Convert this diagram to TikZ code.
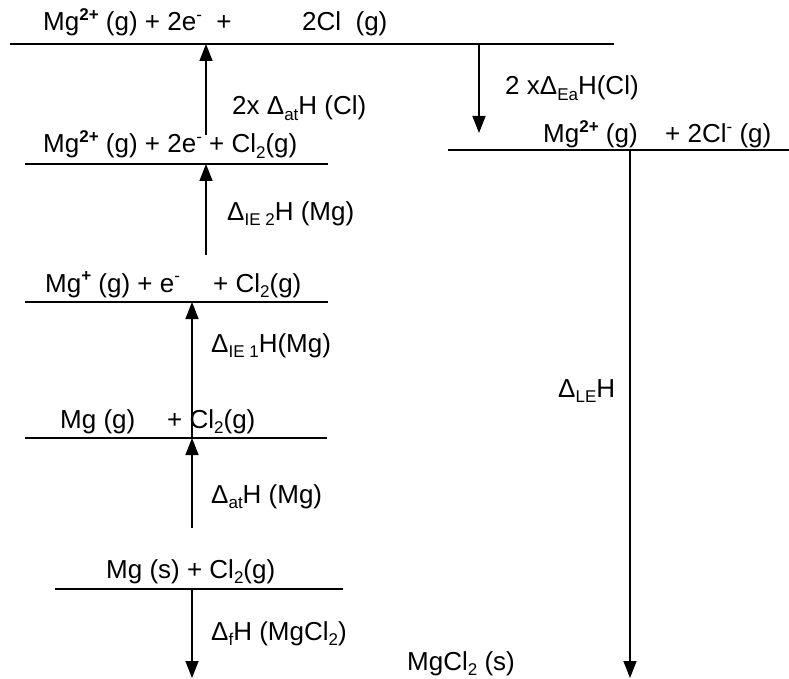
\documentclass[tikz,border=0pt]{standalone}
\usepackage{fontspec}
\setmainfont{Liberation Sans}
\usetikzlibrary{arrows.meta}
\newcommand{\sps}[1]{\raisebox{0.42em}{\fontsize{17}{17}\selectfont\bfseries #1}}
\newcommand{\spn}[1]{\raisebox{0.42em}{\fontsize{17}{17}\selectfont #1}}
\newcommand{\sbs}[1]{\raisebox{-0.2em}{\fontsize{17}{17}\selectfont #1}}
\begin{document}
\begin{tikzpicture}[x=1pt,y=-1pt,
  font=\fontsize{26}{30}\selectfont,
  lvl/.style={line width=1.6pt},
  arr/.style={line width=1.6pt,-{Triangle[width=13pt,length=17pt]}},
  txt/.style={anchor=base west,inner sep=0pt}]
\useasboundingbox (0,0) rectangle (789,679);
% levels
\coordinate (L1a) at (10,44);  \coordinate (L1b) at (614,44);
\coordinate (L2a) at (25,164); \coordinate (L2b) at (328,164);
\coordinate (R1a) at (448,150); \coordinate (R1b) at (789,150);
\coordinate (L3a) at (25,302); \coordinate (L3b) at (328,302);
\coordinate (L4a) at (25,438); \coordinate (L4b) at (327,438);
\coordinate (L5a) at (55,589); \coordinate (L5b) at (343,589);
\draw[lvl] (L1a) -- (L1b);
\draw[lvl] (L2a) -- (L2b);
\draw[lvl] (R1a) -- (R1b);
\draw[lvl] (L3a) -- (L3b);
\draw[lvl] (L4a) -- (L4b);
\draw[lvl] (L5a) -- (L5b);
% arrow ends
\coordinate (a1s) at (206,135); \coordinate (a1e) at (206,44);
\coordinate (a2s) at (206,255); \coordinate (a2e) at (206,164);
\coordinate (a3s) at (192,438); \coordinate (a3e) at (192,302);
\coordinate (a4s) at (192,528); \coordinate (a4e) at (192,438);
\coordinate (a5s) at (192,589); \coordinate (a5e) at (192,678);
\coordinate (a6s) at (479,44);  \coordinate (a6e) at (479,133);
\coordinate (a7s) at (630,150); \coordinate (a7e) at (630,678);
\draw[arr] (a1s) -- (a1e);
\draw[arr] (a2s) -- (a2e);
\draw[arr] (a3s) -- (a3e);
\draw[arr] (a4s) -- (a4e);
\draw[arr] (a5s) -- (a5e);
\draw[arr] (a6s) -- (a6e);
\draw[arr] (a7s) -- (a7e);
% texts
\node[txt] (t1a) at (43,31) {Mg\sps{2+} (g) + 2e\spn{-}\ \ +};
\node[txt] (t1b) at (302,31) {2Cl\ \ (g)};
\node[txt] (t2) at (232,115) {2x Δ\sbs{at}H (Cl)};
\node[txt] (t3) at (43,153) {Mg\sps{2+} (g) + 2e\spn{-} + Cl\sbs{2}(g)};
\node[txt] (t4) at (505,95) {2 xΔ\sbs{Ea}H(Cl)};
\node[txt] (t5a) at (543,143) {Mg\sps{2+} (g)};
\node[txt] (t5b) at (665,143) {+ 2Cl\spn{-} (g)};
\node[txt] (t6) at (227,220) {Δ\sbs{IE 2}H (Mg)};
\node[txt] (t7a) at (45,292) {Mg\sps{+} (g) + e\spn{-}};
\node[txt] (t7b) at (213,292) {+ Cl\sbs{2}(g)};
\node[txt] (t8) at (211,352) {Δ\sbs{IE 1}H(Mg)};
\node[txt] (t9a) at (60,428) {Mg (g)};
\node[txt] (t9b) at (167,428) {+ Cl\sbs{2}(g)};
\node[txt] (t10) at (211,503) {Δ\sbs{at}H (Mg)};
\node[txt] (t11) at (106,578) {Mg (s) + Cl\sbs{2}(g)};
\node[txt] (t12) at (211,640) {Δ\sbs{f}H (MgCl\sbs{2})};
\node[txt] (t13) at (558,397) {Δ\sbs{LE}H};
\node[txt] (t14) at (407,670) {MgCl\sbs{2} (s)};
\end{tikzpicture}
\end{document}
